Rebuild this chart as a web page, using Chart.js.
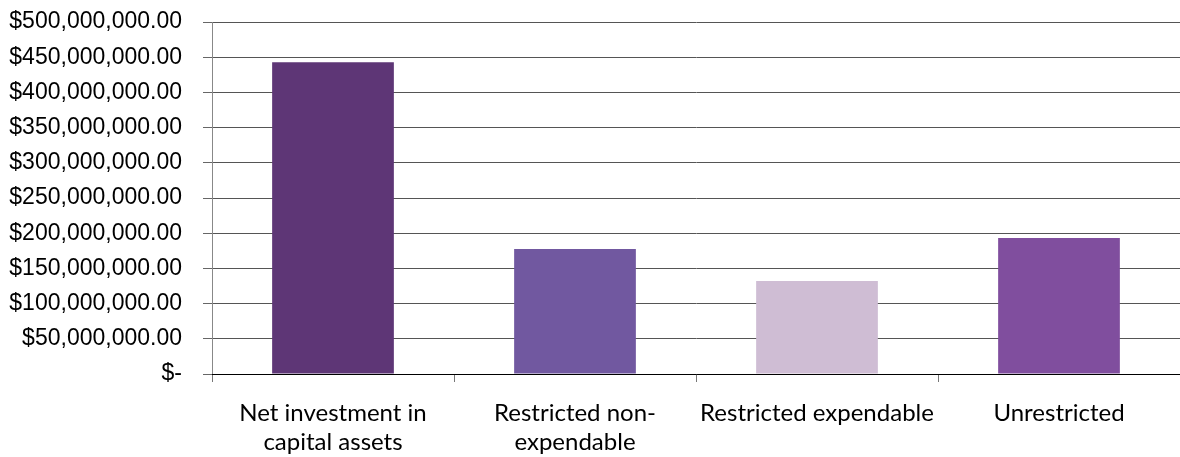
<!DOCTYPE html>
<html>
<head>
<meta charset="utf-8">
<script src="https://cdn.jsdelivr.net/npm/chart.js@4"></script>
<style>
  html, body { margin: 0; padding: 0; background: #fff; }
  #wrap { width: 1180px; height: 457px; }
</style>
</head>
<body>
<div id="wrap"><canvas id="c" width="1180" height="457"></canvas></div>
<script>
const categories = [
  ["Net investment in", "capital assets"],
  ["Restricted non-", "expendable"],
  "Restricted expendable",
  "Unrestricted"
];
const values = [443000000, 177700000, 132200000, 193300000];
const barColors = ["#5E3676", "#7158A0", "#CFBDD4", "#804E9E"];
const yMin = 0, yMax = 500000000, yStep = 50000000;

function fmt(v) {
  if (v === 0) return "$-";
  return "$" + v.toLocaleString("en-US", { minimumFractionDigits: 2, maximumFractionDigits: 2 });
}

new Chart(document.getElementById("c"), {
  type: "bar",
  data: {
    labels: categories,
    datasets: [{
      data: values,
      backgroundColor: barColors,
      borderWidth: 0,
      barPercentage: 0.503,
      categoryPercentage: 1.0
    }]
  },
  options: {
    responsive: false,
    animation: false,
    devicePixelRatio: 1,
    layout: { padding: { top: 22, right: 0, bottom: 0, left: 0 } },
    plugins: { legend: { display: false }, tooltip: { enabled: false } },
    scales: {
      y: {
        min: yMin, max: yMax,
        afterFit: (s) => { s.width = 212; s.paddingTop = 12; s.paddingBottom = 12; },
        ticks: {
          stepSize: yStep,
          callback: (v) => fmt(v),
          color: "#000",
          padding: 21,
          font: { family: "'Liberation Sans', Arial, sans-serif", size: 23 }
        },
        grid: { color: "#555", lineWidth: 1, tickLength: 9, tickColor: "#666" },
        border: { color: "#888", width: 1 }
      },
      x: {
        afterFit: (s) => { s.height = 83; },
        ticks: {
          color: "#000",
          padding: 17,
          maxRotation: 0,
          autoSkip: false,
          font: { family: "Lato, 'Open Sans', sans-serif", size: 24, lineHeight: "29px" }
        },
        grid: { drawOnChartArea: false, drawTicks: true, tickLength: 8, offset: true, color: "#777" },
        border: { color: "#000", width: 1 }
      }
    }
  }
});
</script>
</body>
</html>
